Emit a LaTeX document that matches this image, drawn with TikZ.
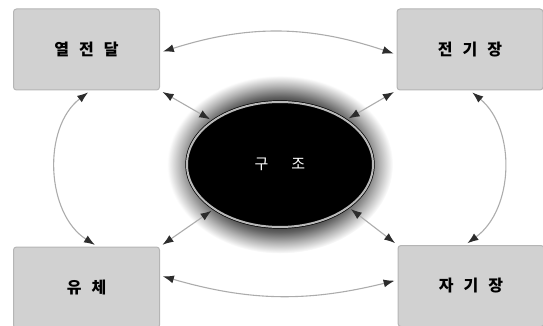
\documentclass[tikz,border=0pt]{standalone}
\usepackage{fontspec}
\newfontfamily\kfont{Noto Sans CJK KR}
\newcommand\gap{\hspace{10pt}}
\usetikzlibrary{arrows.meta,shapes.geometric}
\pgfdeclareradialshading{halo}{\pgfpointorigin}{color(0bp)=(black); color(16bp)=(black!85); color(19bp)=(black!62); color(22bp)=(black!30); color(25bp)=(white); color(50bp)=(white)}
\begin{document}
\begin{tikzpicture}[x=1pt,y=-1pt,
  field/.style={rectangle,rounded corners=3pt,fill=gray!36,draw=gray!58,line width=1pt,
    minimum width=146pt,minimum height=81pt,inner sep=0pt,font=\kfont\bfseries\fontsize{16}{18}\selectfont},
  link/.style={draw=gray!65,line width=1.1pt,
    {Latex[length=11pt,width=8pt,color=gray!35!black]}-{Latex[length=11pt,width=8pt,color=gray!35!black]},
    shorten >=3pt,shorten <=3pt}]
\useasboundingbox (0,0) rectangle (543,326);
% glow round the core
\shade[shading=halo] (280,164.5) ellipse [x radius=113, y radius=89];
\node[ellipse,fill=black,draw=black,double=gray!55,double distance=2pt,line width=0.7pt,
  minimum width=186pt,minimum height=125pt,inner sep=0pt,text=white,
  font=\kfont\fontsize{15}{17}\selectfont] (core) at (280,164.5) {구\hspace{23pt}조};
% the four fields
\node[field] (heat) at (86.5,49.5) {열\gap 전\gap 달};
\node[field] (efield) at (470,49.5) {전\gap 기\gap 장};
\node[field] (fluid) at (86.5,287.5) {유\gap 체};
\node[field] (mfield) at (471,286) {자\gap 기\gap 장};
% coupling round the outside
\draw[link] ([yshift=-3pt]heat.east) to[bend left=18] ([yshift=-5pt]efield.west);
\draw[link] ([yshift=12pt]fluid.east) to[bend right=15] ([yshift=6pt]mfield.west);
\draw[link] ([xshift=4pt]heat.south) to[bend right=55] ([xshift=11pt]fluid.north);
\draw[link] ([xshift=0pt]efield.south) to[bend left=52] ([xshift=-6pt]mfield.north);
% coupling to the core
\draw[link] (heat.south east) -- (core.147);
\draw[link] (efield.south west) -- (core.34);
\draw[link] (fluid.north east) -- (core.214);
\draw[link] (mfield.north west) -- (core.328);
\end{tikzpicture}
\end{document}
